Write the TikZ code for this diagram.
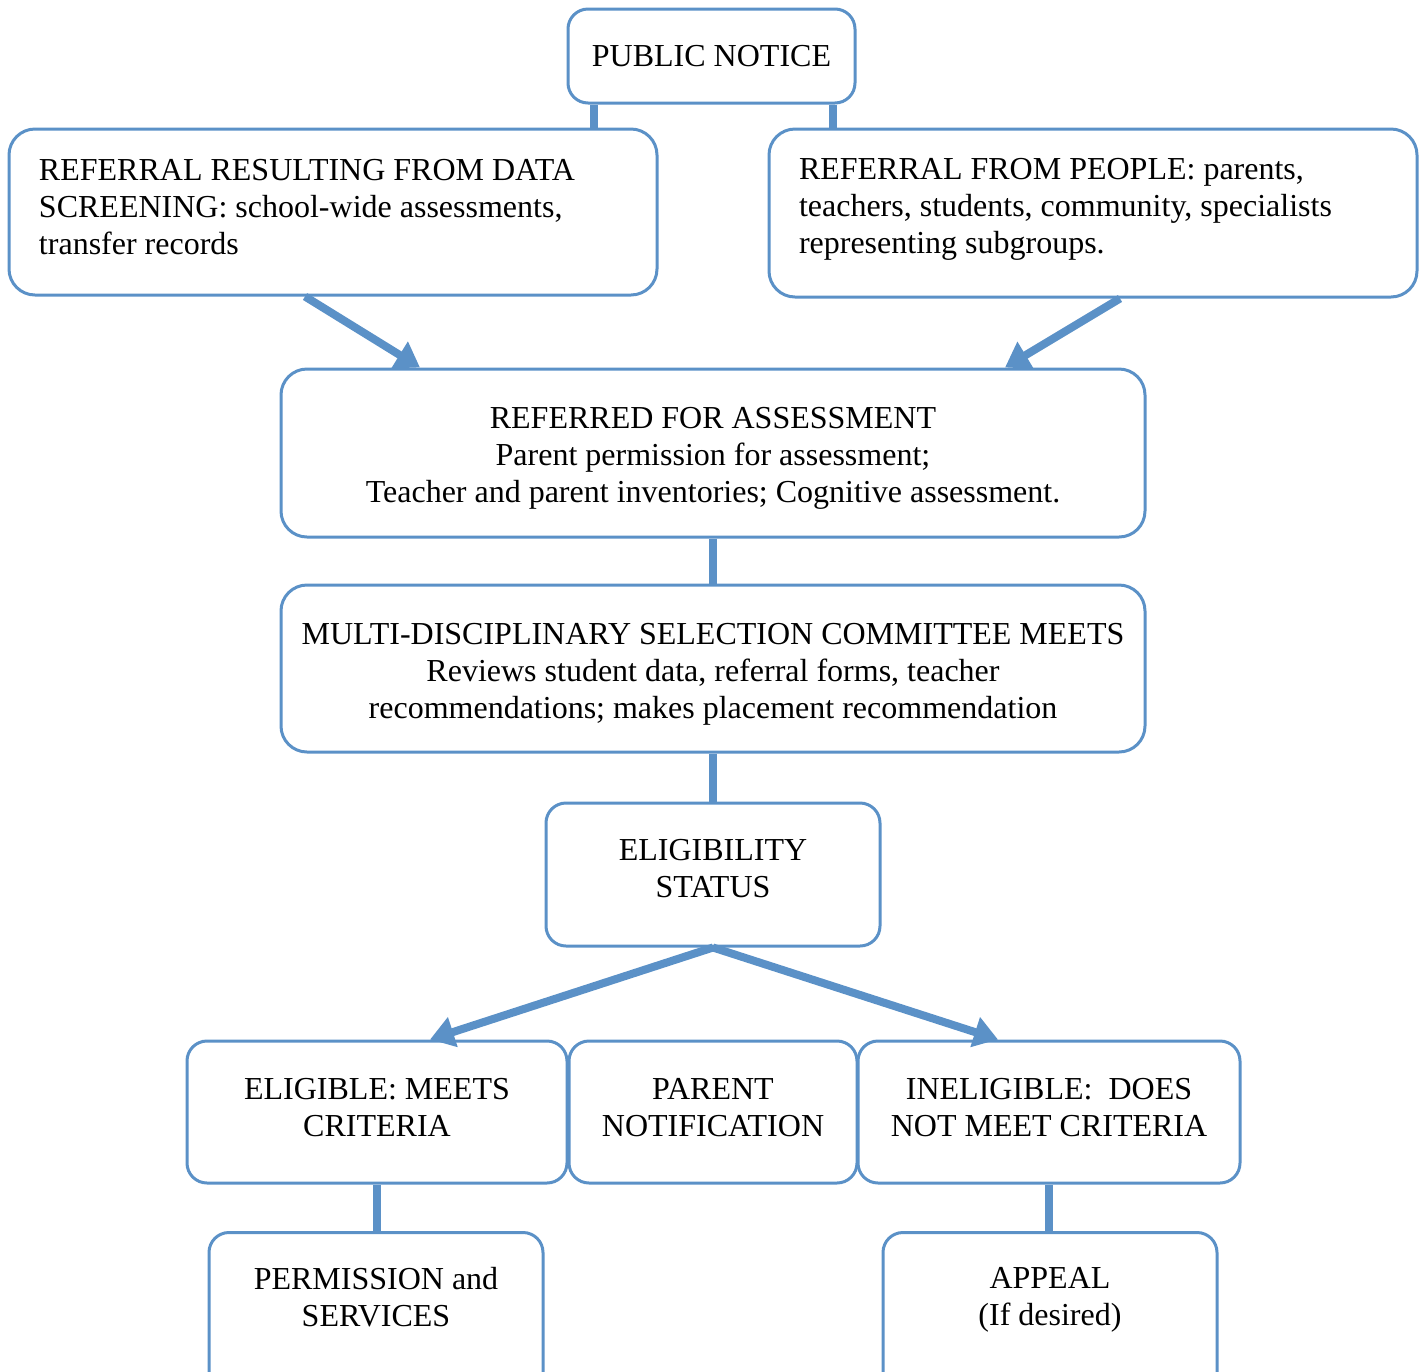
\documentclass[tikz,border=0pt]{standalone}
\usepackage{fontspec}
\setmainfont{Liberation Serif}
\usetikzlibrary{arrows.meta}

\begin{document}
\begin{tikzpicture}[x=0.5pt,y=0.5pt,yscale=-1,xscale=1,
  box/.style={draw={rgb, 255:red, 91; green, 145; blue, 199}, line width=1.5pt, rounded corners=10pt, align=center, inner sep=0pt, font=\fontsize{16pt}{18.5pt}\selectfont},
  bigbox/.style={box, rounded corners=13pt},
  txt/.style={align=center, inner sep=0pt, font=\fontsize{16pt}{18.5pt}\selectfont},
  conn/.style={draw={rgb, 255:red, 91; green, 145; blue, 199}, line width=4pt},
  arr/.style={conn, -{Triangle[length=12pt,width=15pt]}}]
\useasboundingbox (0,0) rectangle (1426,1372);
\clip (0,0) rectangle (1426,1372);

%Shape: Rounded Rectangle
\node [box, minimum width=143.5pt, minimum height=47pt] (pub) at (711.5,56) {PUBLIC NOTICE};
%Shape: Rounded Rectangle
\node [bigbox, minimum width=324pt, minimum height=83pt, text width=294pt, align=flush left, inner xsep=15pt, text depth=42.5pt] (lref) at (333,212) {REFERRAL RESULTING FROM DATA\\SCREENING: school-wide assessments,\\transfer records};
%Shape: Rounded Rectangle
\node [bigbox, minimum width=324pt, minimum height=84pt, text width=294pt, align=flush left, inner xsep=15pt, text depth=43.7pt] (rref) at (1093,213) {REFERRAL FROM PEOPLE: parents,\\teachers, students, community, specialists\\representing subgroups.};
%Shape: Rounded Rectangle
\node [bigbox, minimum width=432pt, minimum height=84pt, text height=49.6pt, text depth=0pt] (assess) at (713,453) {REFERRED FOR ASSESSMENT\\Parent permission for assessment;\\Teacher and parent inventories; Cognitive assessment.};
%Shape: Rounded Rectangle
\node [bigbox, minimum width=432pt, minimum height=83.5pt, text height=50.1pt, text depth=0pt] (committee) at (713,668.5) {MULTI-DISCIPLINARY SELECTION COMMITTEE MEETS\\Reviews student data, referral forms, teacher\\recommendations; makes placement recommendation};
%Shape: Rounded Rectangle
\node [box, minimum width=167pt, minimum height=71.5pt, text depth=6pt] (status) at (713,874.5) {ELIGIBILITY\\STATUS};
%Shape: Rounded Rectangle
\node [box, minimum width=190pt, minimum height=71pt, text depth=5pt] (eligible) at (377,1112) {ELIGIBLE: MEETS\\CRITERIA};
%Shape: Rounded Rectangle
\node [box, minimum width=144pt, minimum height=71pt, text depth=5pt] (notify) at (713,1112) {PARENT\\NOTIFICATION};
%Shape: Rounded Rectangle
\node [box, minimum width=191pt, minimum height=71pt, text depth=5pt] (inelig) at (1049,1112) {INELIGIBLE:\ \ DOES\\NOT MEET CRITERIA};
%Shape: Rounded Rectangle
\node [box, minimum width=167pt, minimum height=90pt, anchor=north] (perm) at (376,1231) {};
%Shape: Rounded Rectangle
\node [box, minimum width=167pt, minimum height=90pt, anchor=north] (appeal) at (1050,1231) {};

% Text Node
\node [txt] (permtext) at (376,1297) {PERMISSION and\\SERVICES};
% Text Node
\node [txt] (appealtext) at (1050,1300) {APPEAL\\(If desired)};

%Straight Lines
\draw [conn] ([xshift=-59pt]pub.south) -- ([xshift=-59pt]pub.south |- lref.north);
\draw [conn] ([xshift=60.75pt]pub.south) -- ([xshift=60.75pt]pub.south |- rref.north);
\draw [conn] (assess.south) -- (committee.north);
\draw [conn] (committee.south) -- (status.north);
\draw [conn] (eligible.south) -- (eligible.south |- perm.north);
\draw [conn] (inelig.south) -- (inelig.south |- appeal.north);

%Arrows
\draw [arr] ([xshift=-14pt]lref.south) -- ([xshift=-146.5pt]assess.north);
\draw [arr] ([xshift=13.5pt]rref.south) -- ([xshift=146pt]assess.north);
\draw [arr] (status.south) -- ([xshift=26.5pt]eligible.north);
\draw [arr] (status.south) -- ([xshift=-25.5pt]inelig.north);

\end{tikzpicture}
\end{document}
